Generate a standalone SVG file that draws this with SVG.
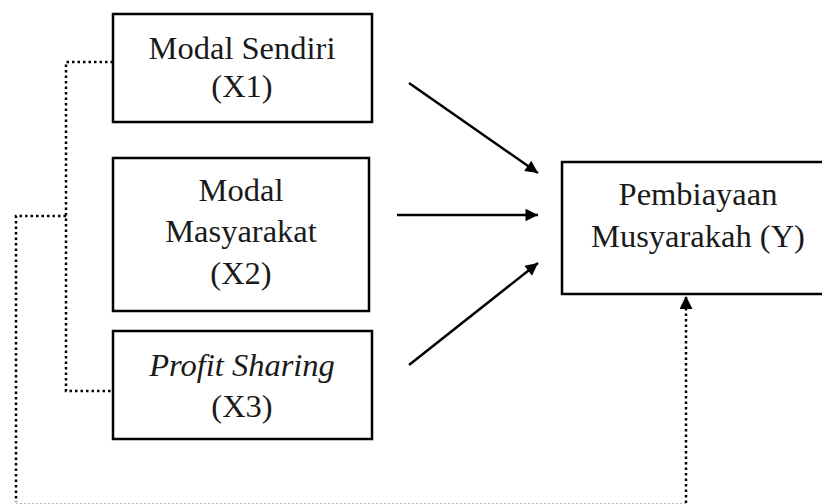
<svg xmlns="http://www.w3.org/2000/svg" width="822" height="504" viewBox="0 0 822 504">
<style>
.box{fill:#fff;stroke:#000;stroke-width:2.5}
.t{font-family:'Liberation Serif',serif;font-size:32.5px;fill:#1a1a1a;text-anchor:middle}
.it{font-style:italic}
.arr{stroke:#000;stroke-width:2.5;fill:none;marker-end:url(#ah)}
.dot{stroke:#000;stroke-width:2.5;fill:none;stroke-dasharray:2.5 3}
</style>
<defs>
<marker id="ah" viewBox="0 0 10 10" refX="10" refY="5" markerWidth="6" markerHeight="5" markerUnits="strokeWidth" orient="auto">
<path d="M0,0L10,5L0,10z" fill="#000"/>
</marker>
<marker id="ahd" viewBox="0 0 10 10" refX="10" refY="5" markerWidth="6" markerHeight="5.2" markerUnits="strokeWidth" orient="auto">
<path d="M0,0L10,5L0,10z" fill="#000"/>
</marker>
</defs>
<g id="connectors">
<line class="arr" x1="409" y1="83" x2="538" y2="173"/>
<line class="arr" x1="397" y1="215" x2="538" y2="215"/>
<line class="arr" x1="409" y1="365" x2="538" y2="263"/>
<polyline class="dot" points="113,62 66,62 66,391 113,391"/>
<polyline class="dot" points="66,216 16,216 16,502"/>
<line x1="16" y1="503.5" x2="686" y2="503.5" stroke="#bbb" stroke-width="1" stroke-dasharray="2 2"/>
<line class="dot" x1="686" y1="503" x2="686" y2="296" marker-end="url(#ahd)"/>
</g>
<g id="x1">
<rect class="box" x="113" y="14" width="259" height="108"/>
<text class="t" x="242" y="59">Modal Sendiri</text>
<text class="t" x="242" y="97">(X1)</text>
</g>
<g id="x2">
<rect class="box" x="113" y="158" width="256" height="153"/>
<text class="t" x="241" y="201">Modal</text>
<text class="t" x="241" y="242">Masyarakat</text>
<text class="t" x="241" y="284">(X2)</text>
</g>
<g id="x3">
<rect class="box" x="113" y="331" width="259" height="108"/>
<text class="t it" x="242" y="376">Profit Sharing</text>
<text class="t" x="242" y="417">(X3)</text>
</g>
<g id="y">
<rect class="box" x="562" y="162" width="280" height="132"/>
<text class="t" x="698" y="205">Pembiayaan</text>
<text class="t" x="698" y="247">Musyarakah (Y)</text>
</g>
</svg>
